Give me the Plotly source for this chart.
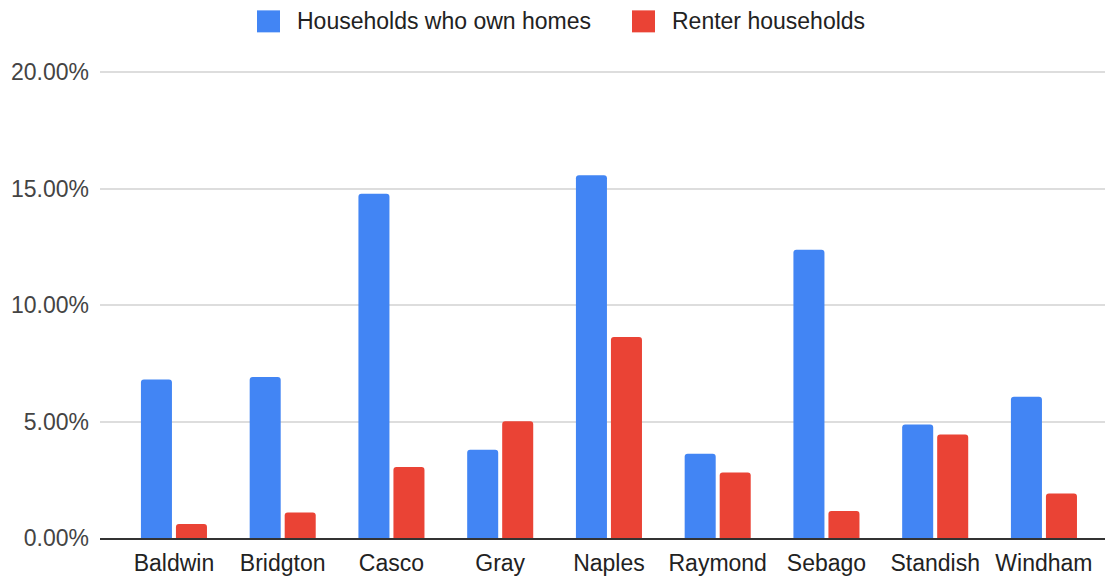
import plotly.graph_objects as go

towns = ["Baldwin", "Bridgton", "Casco", "Gray", "Naples", "Raymond", "Sebago", "Standish", "Windham"]
owners = [0.0681, 0.0691, 0.1478, 0.0379, 0.1558, 0.0362, 0.1238, 0.0487, 0.0607]
renters = [0.0060, 0.0109, 0.0305, 0.0501, 0.0863, 0.0281, 0.0116, 0.0445, 0.0191]
series_names = ["Households who own homes", "Renter households"]
colors = ["#4285F4", "#EA4335"]

# the page body has an 8px default margin; compensate so the picture lines up
OFF = 8
W, H = 1113 - OFF, 577 - OFF
Y_TOP = 0.201
base_px = 538.0
top_px = base_px - Y_TOP * (466.0 / 0.2)
ML, MR = 100 - OFF, 0
MT = top_px - OFF
MB = 577 - base_px
PW, PH = W - ML - MR, H - MT - MB
FONT = "Arial, Liberation Sans, sans-serif"

def px_x(px):
    return (px - OFF - ML) / PW

def px_y(py):
    return (H - MB - (py - OFF)) / PH

fig = go.Figure()
for name, vals, col in zip(series_names, [owners, renters], colors):
    fig.add_trace(go.Bar(x=towns, y=vals, name=name,
                         marker=dict(color=col, cornerradius=3, line=dict(width=0)),
                         showlegend=False))

# manual legend (bigger swatches than plotly's legend allows)
legend_items = [(257, 297), (632, 672)]
shapes = []
annotations = []
for (sx, tx), name, col in zip(legend_items, series_names, colors):
    shapes.append(dict(type="rect", xref="paper", yref="paper",
                       x0=px_x(sx), x1=px_x(sx + 23), y0=px_y(32), y1=px_y(10),
                       fillcolor=col, line=dict(width=0)))
    annotations.append(dict(xref="paper", yref="paper", x=px_x(tx - 2), y=px_y(21),
                            xanchor="left", yanchor="middle", text=name, showarrow=False,
                            font=dict(family=FONT, size=23, color="#222222")))

fig.update_layout(
    width=W, height=H,
    margin=dict(l=ML, r=MR, t=MT, b=MB, pad=0),
    paper_bgcolor="white", plot_bgcolor="white",
    barmode="group", bargap=0.356, bargroupgap=0.114,
    shapes=shapes, annotations=annotations,
    font=dict(family=FONT, size=23, color="#444444"),
)
fig.update_xaxes(range=[-0.68, 8.635], showgrid=False, showline=True, linecolor="#333333", linewidth=2,
                 ticks="", tickfont=dict(size=23, color="#222222"), ticklabelstandoff=3)
fig.update_yaxes(range=[0, Y_TOP], tickvals=[0, 0.05, 0.10, 0.15, 0.20], tickformat=".2%",
                 showgrid=True, gridcolor="#dddddd", gridwidth=2,
                 zeroline=False, ticks="", tickfont=dict(size=23, color="#444444"), ticklabelstandoff=10)

fig.write_html("out.html")
